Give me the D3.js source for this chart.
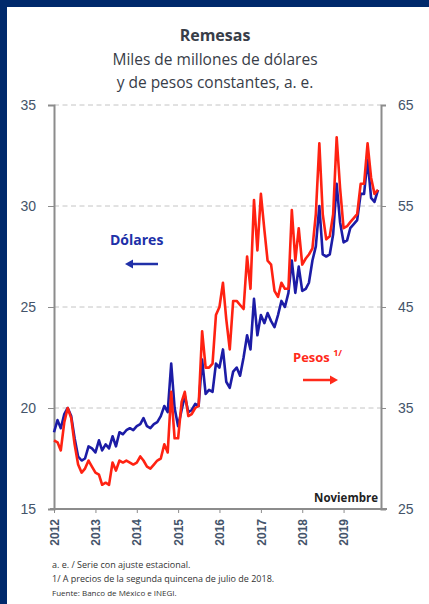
<!DOCTYPE html>
<html>
<head>
<meta charset="utf-8">
<script src="https://d3js.org/d3.v7.min.js"></script>
<style>
  html, body { margin: 0; padding: 0; background: #fff; }
  svg { display: block; font-family: "Open Sans", sans-serif; }
  .grid line { stroke: #c4c4c4; stroke-dasharray: 5,3.5; }
  .axis path, .axis line { stroke: #8c8c8c; }
  .axis text { fill: #44546a; }
</style>
</head>
<body>
<script>
// Remesas mensuales, ene 2012 - nov 2019
let startMonth = new Date(2012, 0, 1);

// miles de millones de dolares (eje izquierdo)
let dolares = [
  18.8, 19.4, 19.0, 19.7, 20.0, 19.6, 18.5, 17.6, 17.4, 17.5, 18.1, 18.0,
  17.8, 18.4, 17.9, 18.2, 18.0, 18.6, 18.1, 18.8, 18.7, 18.9, 19.0, 18.9,
  19.1, 19.2, 19.5, 19.1, 19.0, 19.2, 19.3, 19.6, 20.1, 19.8, 22.2, 20.0,
  19.1, 19.9, 20.6, 19.8, 19.9, 20.2, 20.1, 22.4, 20.7, 20.9, 20.8, 22.2,
  22.0, 22.9, 21.3, 21.0, 21.8, 22.0, 21.6, 22.5, 23.6, 22.9, 25.4, 23.6,
  24.6, 24.2, 24.7, 24.3, 24.0, 24.6, 25.3, 25.0, 25.7, 27.3, 25.7, 27.0,
  25.8, 25.9, 26.2, 27.3, 28.0, 30.0, 27.6, 27.5, 27.6, 28.6, 31.1, 29.2,
  28.2, 28.3, 28.9, 29.1, 29.3, 30.6, 30.6, 32.3, 30.4, 30.2, 30.8
];

// miles de millones de pesos constantes (eje derecho)
let pesos = [
  31.8, 31.6, 30.8, 33.6, 35.0, 34.0, 31.4, 29.4, 28.6, 29.0, 29.8, 29.2,
  28.6, 28.4, 27.4, 27.6, 27.4, 29.6, 28.8, 29.8, 29.6, 29.8, 29.6, 29.4,
  29.6, 30.2, 29.8, 29.2, 29.0, 29.4, 29.8, 30.0, 31.4, 30.6, 36.6, 32.0,
  32.0, 35.6, 36.6, 34.2, 34.4, 35.0, 35.2, 42.6, 39.0, 39.0, 39.4, 44.2,
  45.0, 47.4, 43.8, 40.8, 45.6, 45.6, 45.2, 44.8, 50.0, 46.8, 55.6, 50.6,
  56.2, 52.6, 49.6, 49.2, 46.6, 46.0, 47.4, 46.8, 46.8, 54.6, 49.6, 52.8,
  49.2, 49.8, 50.2, 50.8, 54.2, 61.2, 54.2, 51.7, 52.0, 54.2, 61.8, 56.8,
  52.8, 53.0, 53.4, 53.8, 54.2, 57.2, 57.2, 61.2, 57.8, 56.2, 56.6
];

let leftTicks  = [15, 20, 25, 30, 35];
let rightTicks = [25, 35, 45, 55, 65];
let yearTicks  = [2012, 2013, 2014, 2015, 2016, 2017, 2018, 2019];

let footnotes = [
  'a. e. / Serie con ajuste estacional.',
  '1/ A precios de la segunda quincena de julio de 2018.',
  'Fuente: Banco de México e INEGI.'
];

(function () {

  function go() {
    let totalWidth = 429, totalHeight = 604;
    let plot = { left: 54, right: 381, top: 105, bottom: 509 };

    let month = function (i) { return d3.timeMonth.offset(startMonth, i); };

    let x = d3.scaleTime()
        .domain([startMonth, month(dolares.length - 1)])
        .range([plot.left, 378]);
    let yLeft = d3.scaleLinear().domain([15, 35]).range([plot.bottom, plot.top]);
    let yRight = d3.scaleLinear().domain([25, 65]).range([plot.bottom, plot.top]);

    let svg = d3.select('body').append('svg')
        .attr('width', totalWidth)
        .attr('height', totalHeight);

    // frame
    svg.append('rect').attr('width', totalWidth).attr('height', totalHeight).attr('fill', '#00296b');
    svg.append('rect').attr('x', 7).attr('y', 7)
      .attr('width', totalWidth - 7).attr('height', totalHeight - 7).attr('fill', '#fff');

    // titles
    let title = svg.append('g').attr('text-anchor', 'middle').attr('fill', '#383d48');
    title.append('text').attr('x', 215).attr('y', 41)
      .attr('font-size', 16).attr('font-weight', 'bold').text('Remesas');
    title.append('text').attr('x', 215).attr('y', 65)
      .attr('font-size', 15.5).text('Miles de millones de dólares');
    title.append('text').attr('x', 215).attr('y', 88)
      .attr('font-size', 15.5).text('y de pesos constantes, a. e.');

    // gridlines
    svg.append('g').attr('class', 'grid')
      .selectAll('line').data(leftTicks.slice(1)).enter()
      .append('line')
      .attr('x1', plot.left).attr('x2', plot.right)
      .attr('y1', function (d) { return yLeft(d); })
      .attr('y2', function (d) { return yLeft(d); });

    // axes
    let leftAxis = d3.axisLeft(yLeft).tickValues(leftTicks).tickSize(6).tickPadding(12);
    let gl = svg.append('g').attr('class', 'axis')
        .attr('transform', 'translate(' + plot.left + ',0)')
        .call(leftAxis);
    gl.select('.domain').attr('stroke-width', 2);
    gl.selectAll('text').attr('font-size', 14);

    let rightAxis = d3.axisRight(yRight).tickValues(rightTicks).tickSize(5).tickPadding(12);
    let gr = svg.append('g').attr('class', 'axis')
        .attr('transform', 'translate(' + plot.right + ',0)')
        .call(rightAxis);
    gr.select('.domain').attr('stroke-width', 2);
    gr.selectAll('text').attr('font-size', 14);

    let bottomAxis = d3.axisBottom(x)
        .tickValues(yearTicks.map(function (y) { return new Date(y, 0, 1); }))
        .tickFormat(d3.timeFormat('%Y'))
        .tickSize(4)
        .tickSizeOuter(0);
    let gb = svg.append('g').attr('class', 'axis')
        .attr('transform', 'translate(0,' + plot.bottom + ')')
        .call(bottomAxis);
    gb.select('.domain').attr('d', 'M' + (plot.left - 4) + ',0H' + (plot.right + 6)).attr('stroke-width', 2);
    gb.selectAll('text')
      .attr('font-size', 12).attr('font-weight', 'bold').attr('fill', '#333')
      .attr('text-anchor', 'end')
      .attr('transform', 'rotate(-90)')
      .attr('x', -10).attr('y', 0).attr('dy', '0.35em');

    // series
    let lineLeft = d3.line()
        .x(function (d, i) { return x(month(i)); })
        .y(function (d) { return yLeft(d); });
    let lineRight = d3.line()
        .x(function (d, i) { return x(month(i)); })
        .y(function (d) { return yRight(d); });

    svg.append('path').datum(dolares)
      .attr('d', lineLeft)
      .attr('fill', 'none').attr('stroke', '#1c1ca6').attr('stroke-width', 2.6)
      .attr('stroke-linejoin', 'round');
    svg.append('path').datum(pesos)
      .attr('d', lineRight)
      .attr('fill', 'none').attr('stroke', '#ff2212').attr('stroke-width', 2.6)
      .attr('stroke-linejoin', 'round');

    // labels
    svg.append('text').attr('x', 110).attr('y', 245)
      .attr('font-size', 14).attr('font-weight', 'bold').attr('fill', '#2030a8')
      .text('Dólares');
    arrow(158, 125, 264, '#2030a8');

    let p = svg.append('text').attr('x', 293).attr('y', 362)
      .attr('font-size', 13).attr('font-weight', 'bold').attr('fill', '#ff2a1a');
    p.append('tspan').text('Pesos ');
    p.append('tspan').attr('font-size', 9).attr('dy', -6).text('1/');
    arrow(303, 338, 380, '#ff2a1a');

    svg.append('text').attr('x', 378).attr('y', 502)
      .attr('text-anchor', 'end').attr('font-size', 11.5).attr('font-weight', 'bold')
      .attr('fill', '#222').text('Noviembre');

    // footnotes
    svg.append('g').selectAll('text').data(footnotes).enter()
      .append('text')
      .attr('x', 52)
      .attr('y', function (d, i) { return 568 + i * 14; })
      .attr('font-size', function (d, i) { return i == 2 ? 8 : 9; })
      .attr('fill', '#333')
      .text(function (d) { return d; });

    function arrow(x1, x2, yy, color) {
      let dir = x2 > x1 ? 1 : -1;
      svg.append('line')
        .attr('x1', x1).attr('x2', x2 - dir * 5).attr('y1', yy).attr('y2', yy)
        .attr('stroke', color).attr('stroke-width', 2.5);
      svg.append('path')
        .attr('d', 'M' + x2 + ',' + yy + 'L' + (x2 - dir * 8) + ',' + (yy - 4.5) +
              'L' + (x2 - dir * 8) + ',' + (yy + 4.5) + 'Z')
        .attr('fill', color);
    }
  }

  document.addEventListener('DOMContentLoaded', go);

})();
</script>
</body>
</html>
